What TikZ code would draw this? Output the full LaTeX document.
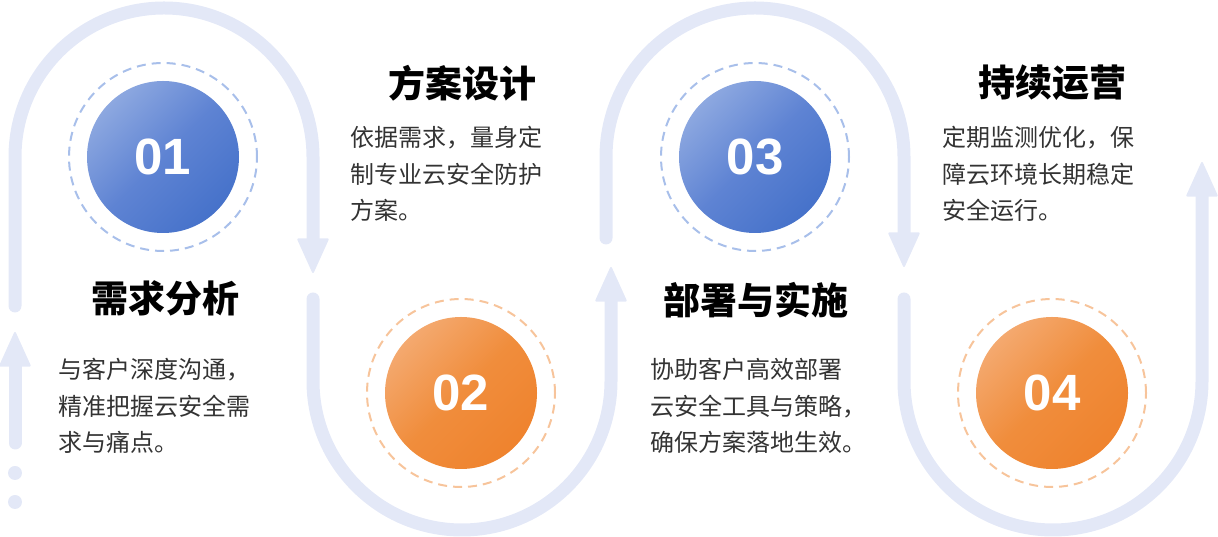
\documentclass[tikz,border=0pt]{standalone}
\usepackage{fontspec}
\usetikzlibrary{arrows.meta}
\newfontfamily\cjk{Noto Sans CJK SC}
\newfontfamily\numfont{Liberation Sans}
\definecolor{trackc}{HTML}{E3E8F7}
\definecolor{blueA}{HTML}{8DA8E0}
\definecolor{blueM}{HTML}{5E83D3}
\definecolor{blueB}{HTML}{4672CA}
\definecolor{orgA}{HTML}{F4A96F}
\definecolor{orgM}{HTML}{F08D3C}
\definecolor{orgB}{HTML}{EF832E}
\definecolor{ringblue}{HTML}{A8BFEA}
\definecolor{ringorg}{HTML}{F7C49B}
\definecolor{txt}{HTML}{333333}

\begin{document}
\begin{tikzpicture}[x=1pt, y=1pt,
  track/.style={line width=13pt, draw=trackc, line cap=round},
  tip/.style={-{Triangle[length=36pt, width=32pt, line width=2pt, round]}},
  numball/.style={circle, minimum size=152pt, inner sep=0pt, text=white,
    font=\numfont\bfseries\fontsize{51}{51}\selectfont},
  blueball/.style={numball, top color=blueA, bottom color=blueB,
    middle color=blueM, shading angle=45},
  orgball/.style={numball, top color=orgA, bottom color=orgB,
    middle color=orgM, shading angle=45},
  ring/.style={dash pattern=on 9pt off 6pt, line width=2pt},
  title/.style={font=\cjk\bfseries\fontsize{37}{37}\selectfont, inner sep=0pt},
  body/.style={font=\cjk\fontsize{24}{36.5}\selectfont, text=txt,
    align=left, anchor=north west, inner sep=0pt}]
  \useasboundingbox (0,0) rectangle (1218,537);

  % 轨道
  \coordinate (s0) at (15,94);
  \coordinate (e0) at (15,205);
  \coordinate (d1) at (15,64);
  \coordinate (d2) at (15,35);
  \draw[track, tip] (s0) -- (e0);
  \fill[trackc] (d1) circle (7);
  \fill[trackc] (d2) circle (7);

  \coordinate (s1) at (15,231);
  \coordinate (e1) at (313,264);
  \draw[track, tip] (s1) -- (15,380) arc[start angle=180, end angle=0, radius=149] -- (e1);

  \coordinate (s2) at (313,238);
  \coordinate (e2) at (611,270);
  \draw[track, tip] (s2) -- (313,156) arc[start angle=180, end angle=360, radius=149] -- (e2);

  \coordinate (s3) at (606,299);
  \coordinate (e3) at (904,270);
  \draw[track, tip] (s3) -- (606,380) arc[start angle=180, end angle=0, radius=149] -- (e3);

  \coordinate (s4) at (904,238);
  \coordinate (e4) at (1202,375);
  \draw[track, tip] (s4) -- (904,156) arc[start angle=180, end angle=360, radius=149] -- (e4);

  % 圆
  \node[blueball] (n1) at (163,380) {01};
  \node[orgball]  (n2) at (461,144) {02};
  \node[blueball] (n3) at (755,380) {03};
  \node[orgball]  (n4) at (1052,144) {04};
  \draw[ring, ringblue] (n1) circle (94);
  \draw[ring, ringorg]  (n2) circle (94);
  \draw[ring, ringblue] (n3) circle (94);
  \draw[ring, ringorg]  (n4) circle (94);

  % 标题
  \node[title] (t1) at (165,239) {需求分析};
  \node[title] (t2) at (462,454) {方案设计};
  \node[title] (t3) at (756,237) {部署与实施};
  \node[title] (t4) at (1052,454) {持续运营};

  % 说明
  \node[body] (b1) at (58,179) {与客户深度沟通，\\精准把握云安全需\\求与痛点。};
  \node[body] (b2) at (350,411) {依据需求，量身定\\制专业云安全防护\\方案。};
  \node[body] (b3) at (650,179) {协助客户高效部署\\云安全工具与策略，\\确保方案落地生效。};
  \node[body] (b4) at (942,411) {定期监测优化，保\\障云环境长期稳定\\安全运行。};

\end{tikzpicture}
\end{document}
